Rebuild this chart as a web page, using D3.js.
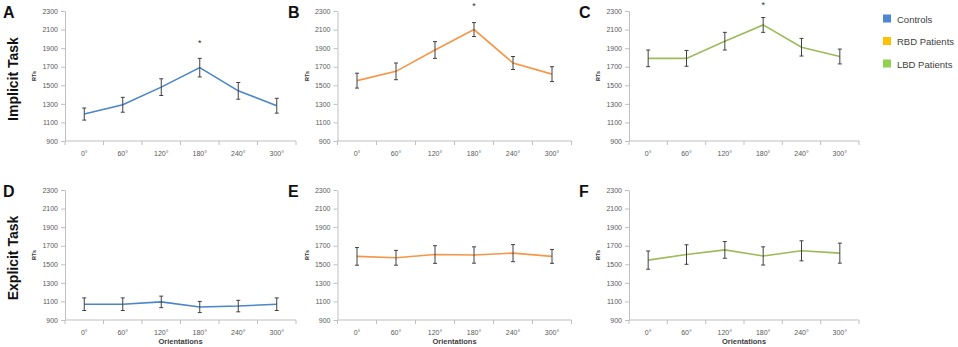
<!DOCTYPE html>
<html>
<head>
<meta charset="utf-8">
<script src="https://cdn.jsdelivr.net/npm/d3@7"></script>
<style>
  html, body { margin: 0; padding: 0; background: #fff; }
  svg { display: block; }
</style>
</head>
<body>
<svg id="chart" width="958" height="347"></svg>
<script>
// ---- data ----
const orientations = ["0°", "60°", "120°", "180°", "240°", "300°"];
const yTicks = [900, 1100, 1300, 1500, 1700, 1900, 2100, 2300];
const groups = ["Controls", "RBD Patients", "LBD Patients"];
const tasks = ["Implicit Task", "Explicit Task"];

const implicitControls    = [1190, 1290, 1480, 1690, 1440, 1280];
const implicitControlsErr = [65, 80, 90, 100, 90, 80];
const implicitRBD         = [1550, 1650, 1880, 2100, 1740, 1620];
const implicitRBDErr      = [80, 90, 90, 75, 70, 80];
const implicitLBD         = [1790, 1790, 1975, 2150, 1910, 1810];
const implicitLBDErr      = [90, 85, 95, 80, 95, 80];

const explicitControls    = [1070, 1070, 1095, 1040, 1050, 1070];
const explicitControlsErr = [68, 68, 62, 60, 62, 68];
const explicitRBD         = [1585, 1570, 1605, 1600, 1620, 1585];
const explicitRBDErr      = [95, 80, 95, 88, 92, 75];
const explicitLBD         = [1545, 1605, 1655, 1590, 1645, 1620];
const explicitLBDErr      = [98, 105, 90, 98, 108, 108];

// significance marks (value level of the asterisk), only on implicit task at 180°
const starLevel = [1975, 2380, 2390];

// ---- styles ----
const legendColors = ["#4f86d4", "#ffc000", "#92d050"];
const lineColors = ["#4a86c8", "#f79646", "#9bbb59"];
const axisColor = "#bfbfbf";
const textColor = "#595959";
const errColor = "#404040";
const tickFont = "Liberation Sans, Arial, sans-serif";

const svg = d3.select("#chart");

const cols = [
  { x0: 65, x1: 296, letterX: 3 },
  { x0: 337.5, x1: 571.5, letterX: 288 },
  { x0: 629, x1: 859, letterX: 579 }
];
const rows = [
  { y0: 141, y1: 11, letterY: 18, labelY: 79 },
  { y0: 320, y1: 190, letterY: 197, labelY: 258 }
];
const letters = [["A", "B", "C"], ["D", "E", "F"]];
const series = [
  [[implicitControls, implicitControlsErr], [implicitRBD, implicitRBDErr], [implicitLBD, implicitLBDErr]],
  [[explicitControls, explicitControlsErr], [explicitRBD, explicitRBDErr], [explicitLBD, explicitLBDErr]]
];

rows.forEach((r, ri) => {
  // row label
  svg.append("text")
    .attr("transform", `translate(18,${r.labelY}) rotate(-90)`)
    .attr("text-anchor", "middle")
    .attr("font-family", "Liberation Sans, Arial, sans-serif")
    .attr("font-weight", "bold")
    .attr("font-size", 14)
    .attr("fill", "#111")
    .text(tasks[ri]);

  cols.forEach((c, ci) => {
    const g = svg.append("g");
    const x = d3.scaleBand().domain(orientations).range([c.x0, c.x1]);
    const y = d3.scaleLinear().domain([900, 2300]).range([r.y0, r.y1]);

    // panel letter
    svg.append("text")
      .attr("x", c.letterX).attr("y", r.letterY)
      .attr("font-family", "Liberation Sans, Arial, sans-serif")
      .attr("font-weight", "bold")
      .attr("font-size", 16)
      .attr("fill", "#111")
      .text(letters[ri][ci]);

    // y axis
    const yAxis = g.append("g")
      .attr("transform", `translate(${c.x0},0)`)
      .call(d3.axisLeft(y).tickValues(yTicks).tickFormat(d3.format("d"))
        .tickSize(4).tickPadding(3).tickSizeOuter(0));
    yAxis.select(".domain").attr("stroke", axisColor);
    yAxis.selectAll(".tick line").attr("stroke", axisColor);
    yAxis.selectAll(".tick text")
      .attr("fill", textColor).attr("font-size", 7).attr("font-family", tickFont);

    // x axis: ticks at band boundaries
    const xAxisG = g.append("g").attr("transform", `translate(0,${r.y0})`);
    xAxisG.append("line")
      .attr("x1", c.x0).attr("x2", c.x1)
      .attr("stroke", axisColor);
    const bounds = orientations.map(o => x(o)).concat([x(orientations[orientations.length - 1]) + x.bandwidth()]);
    xAxisG.selectAll("line.tk").data(bounds).join("line")
      .attr("class", "tk")
      .attr("x1", d => d).attr("x2", d => d)
      .attr("y1", 0).attr("y2", 4)
      .attr("stroke", axisColor);
    xAxisG.selectAll("text.lab").data(orientations).join("text")
      .attr("class", "lab")
      .attr("x", d => x(d) + x.bandwidth() / 2)
      .attr("y", 15)
      .attr("text-anchor", "middle")
      .attr("fill", textColor).attr("font-size", 7).attr("font-family", tickFont)
      .text(d => d);

    // y label
    svg.append("text")
      .attr("transform", `translate(${c.x0 - 29},${(r.y0 + r.y1) / 2}) rotate(-90)`)
      .attr("text-anchor", "middle")
      .attr("font-family", tickFont)
      .attr("font-weight", "bold")
      .attr("font-size", 5.5)
      .attr("fill", "#333")
      .text("RTs");

    if (ri === 1) {
      svg.append("text")
        .attr("x", (c.x0 + c.x1) / 2)
        .attr("y", r.y0 + 24)
        .attr("text-anchor", "middle")
        .attr("font-family", tickFont)
        .attr("font-weight", "bold")
        .attr("font-size", 7.5)
        .attr("fill", "#404040")
        .text("Orientations");
    }

    const [means, errs] = series[ri][ci];
    const pts = orientations.map((o, i) => ({ o, m: means[i], e: errs[i] }));
    const cx = d => x(d.o) + x.bandwidth() / 2;

    // line
    g.append("path")
      .datum(pts)
      .attr("fill", "none")
      .attr("stroke", lineColors[ci])
      .attr("stroke-width", 1.6)
      .attr("d", d3.line().x(cx).y(d => y(d.m)));

    // error bars
    const eb = g.append("g").attr("stroke", errColor).attr("stroke-width", 1);
    eb.selectAll("line.v").data(pts).join("line")
      .attr("class", "v")
      .attr("x1", cx).attr("x2", cx)
      .attr("y1", d => y(d.m - d.e)).attr("y2", d => y(d.m + d.e));
    eb.selectAll("line.t").data(pts).join("line")
      .attr("class", "t")
      .attr("x1", d => cx(d) - 2).attr("x2", d => cx(d) + 2)
      .attr("y1", d => y(d.m + d.e)).attr("y2", d => y(d.m + d.e));
    eb.selectAll("line.b").data(pts).join("line")
      .attr("class", "b")
      .attr("x1", d => cx(d) - 2).attr("x2", d => cx(d) + 2)
      .attr("y1", d => y(d.m - d.e)).attr("y2", d => y(d.m - d.e));

    // asterisk
    if (ri === 0) {
      svg.append("text")
        .attr("x", x("180°") + x.bandwidth() / 2)
        .attr("y", y(starLevel[ci]) + 5)
        .attr("text-anchor", "middle")
        .attr("font-family", tickFont)
        .attr("font-size", 9)
        .attr("fill", "#333")
        .text("*");
    }
  });
});

// legend
const leg = svg.append("g");
groups.forEach((name, i) => {
  const yy = 19 + i * 22.5;
  leg.append("rect")
    .attr("x", 883).attr("y", yy - 4.5)
    .attr("width", 8).attr("height", 8)
    .attr("fill", legendColors[i]);
  leg.append("text")
    .attr("x", 897).attr("y", yy + 3.5)
    .attr("font-family", "Liberation Sans, Arial, sans-serif")
    .attr("font-size", 9.5)
    .attr("fill", "#404040")
    .text(name);
});
</script>
</body>
</html>
